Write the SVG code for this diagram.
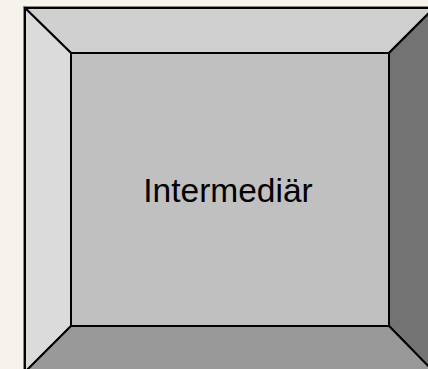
<svg xmlns="http://www.w3.org/2000/svg" width="428" height="369" viewBox="0 0 428 369">
<style>
.p{stroke:#000;stroke-width:2;stroke-linejoin:miter}
.t{font-family:"Liberation Sans",Arial,sans-serif;font-size:33.5px;fill:#000}
</style>
<rect x="0" y="0" width="428" height="369" fill="#f5f3ec"/>
<g id="bevel">
<polygon class="p" points="25,8 434,8 389,53 71,53" fill="#d0d0d0"/>
<polygon class="p" points="25,8 71,53 71,326 25,372" fill="#dbdbdb"/>
<polygon class="p" points="434,8 434,372 389,326 389,53" fill="#737373"/>
<polygon class="p" points="25,372 71,326 389,326 434,372" fill="#999999"/>
<rect x="23.5" y="6.5" width="412" height="368" fill="none" stroke="#8a8a80" stroke-width="1"/>
</g>
<g id="node-intermediar">
<rect class="p" x="71" y="53" width="318" height="273" fill="#c0c0c0"/>
<text class="t" x="228" y="202" text-anchor="middle">Intermediär</text>
</g>
<g id="connectors"/>
</svg>
